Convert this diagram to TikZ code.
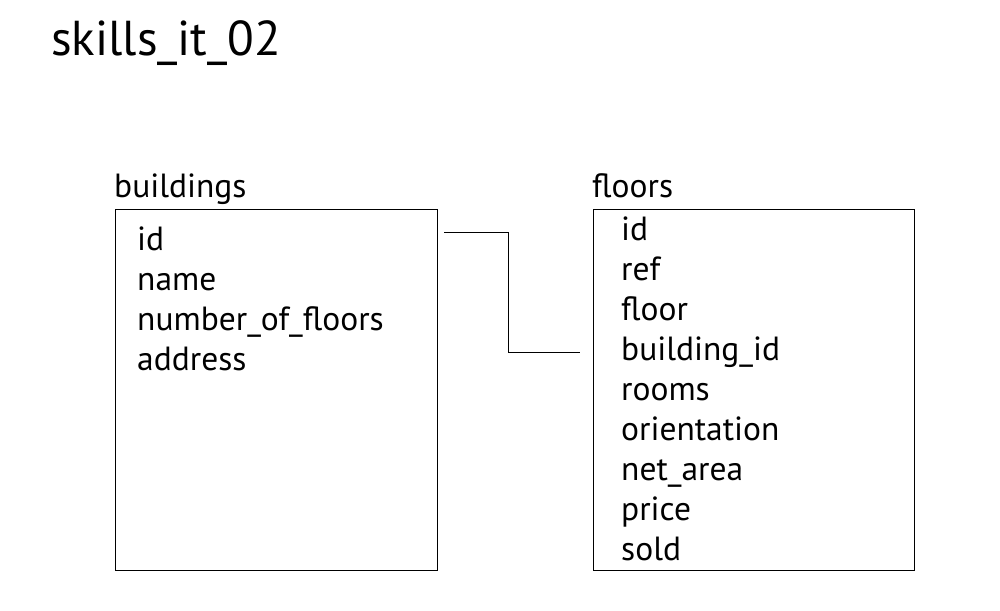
\documentclass[tikz,border=0pt]{standalone}
\usepackage{fontspec}
\setmainfont{PT Sans}
\begin{document}
\begin{tikzpicture}[x=1pt,y=-1pt,
  txt/.style={anchor=base west,inner sep=0pt,font=\fontsize{33.5}{40}\selectfont},
  ttl/.style={anchor=base west,inner sep=0pt,font=\fontsize{49}{58}\selectfont},
  tbl/.style={draw=black,line width=1pt},
  conn/.style={draw=black,line width=1pt}]
\useasboundingbox[fill=white] (0,0) rectangle (1000,610);
\node[ttl] (title) at (51,56) {skills\_it\_02};
% buildings
\node[txt] (blabel) at (114,197) {buildings};
\draw[tbl] (115,209) rectangle (437,570);
\node[txt] (b1) at (137,250) {id};
\node[txt] (b2) at (137,290) {name};
\node[txt] (b3) at (137,330) {number\_of\_floors};
\node[txt] (b4) at (137,370) {address};
% floors
\node[txt] (flabel) at (592,197) {floors};
\draw[tbl] (593,209) rectangle (914,570);
\node[txt] (f1) at (621,240) {id};
\node[txt] (f2) at (621,280) {ref};
\node[txt] (f3) at (621,320) {floor};
\node[txt] (f4) at (621,360) {building\_id};
\node[txt] (f5) at (621,400) {rooms};
\node[txt] (f6) at (621,440) {orientation};
\node[txt] (f7) at (621,480) {net\_area};
\node[txt] (f8) at (621,520) {price};
\node[txt] (f9) at (621,560) {sold};
% connector
\coordinate (c1) at (444,232);
\coordinate (c2) at (580,352);
\draw[conn] (c1) -- (508,232) -- (508,352) -- (c2);
\end{tikzpicture}
\end{document}
